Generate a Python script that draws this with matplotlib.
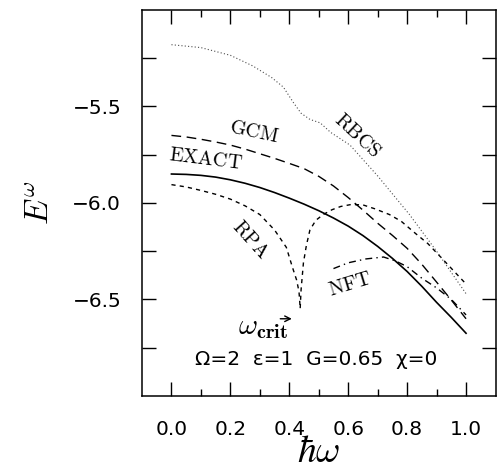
import numpy as np
import matplotlib
matplotlib.use("Agg")
import matplotlib.pyplot as plt

plt.rcParams['mathtext.fontset'] = 'cm'
plt.rcParams['font.family'] = 'DejaVu Sans'

# curves
x_exact = [0.0, 0.05, 0.1, 0.15, 0.2, 0.25, 0.3, 0.35, 0.4, 0.45, 0.5,
           0.55, 0.6, 0.65, 0.7, 0.75, 0.8, 0.85, 0.9, 0.95, 1.0]
y_exact = [-5.850, -5.852, -5.857, -5.866, -5.880, -5.898, -5.920, -5.946, -5.975, -6.006, -6.040,
           -6.078, -6.120, -6.169, -6.225, -6.287, -6.355, -6.432, -6.515, -6.593, -6.675]

x_gcm = [0.0, 0.05, 0.1, 0.15, 0.2, 0.25, 0.3, 0.35, 0.4, 0.45, 0.5,
         0.55, 0.6, 0.65, 0.7, 0.75, 0.8, 0.85, 0.9, 0.95, 1.0]
y_gcm = [-5.650, -5.658, -5.670, -5.684, -5.700, -5.721, -5.745, -5.769, -5.795, -5.822, -5.862,
         -5.912, -5.972, -6.037, -6.105, -6.168, -6.235, -6.318, -6.410, -6.503, -6.600]

x_rpa1 = [0.0, 0.05, 0.1, 0.15, 0.2, 0.25, 0.3, 0.35, 0.39, 0.41, 0.425, 0.433, 0.437]
y_rpa1 = [-5.905, -5.917, -5.935, -5.955, -5.980, -6.015, -6.060, -6.140, -6.230, -6.330, -6.400, -6.460, -6.545]

x_rpa2 = [0.437, 0.440, 0.448, 0.458, 0.47, 0.49, 0.515, 0.545, 0.575, 0.61, 0.65,
          0.69, 0.74, 0.78, 0.83, 0.87, 0.92, 0.96, 1.0]
y_rpa2 = [-6.545, -6.450, -6.310, -6.220, -6.140, -6.090, -6.060, -6.035, -6.018, -6.008, -6.010,
          -6.030, -6.060, -6.095, -6.160, -6.210, -6.290, -6.355, -6.420]

x_nft = [0.55, 0.6, 0.66, 0.72, 0.76, 0.8, 0.85, 0.9, 0.95, 1.0]
y_nft = [-6.34, -6.31, -6.29, -6.28, -6.30, -6.33, -6.39, -6.44, -6.50, -6.58]

x_rbcs = [0.0, 0.1, 0.2, 0.276, 0.34, 0.38, 0.414, 0.44, 0.47, 0.505, 0.54, 0.606,
          0.7, 0.808, 0.9, 0.95, 1.0]
y_rbcs = [-5.18, -5.195, -5.235, -5.29, -5.35, -5.40, -5.48, -5.535, -5.567, -5.585, -5.634, -5.70,
          -5.86, -6.06, -6.25, -6.36, -6.47]

xticks = [0.0, 0.2, 0.4, 0.6, 0.8, 1.0]
xtick_labels = ["0.0", "0.2", "0.4", "0.6", "0.8", "1.0"]
yticks = [-5.25, -5.5, -5.75, -6.0, -6.25, -6.5, -6.75]
ytick_labels = ["", "\u22125.5", "", "\u22126.0", "", "\u22126.5", ""]

fig = plt.figure(figsize=(4.97, 4.74), dpi=100)
ax = fig.add_axes([0.2857, 0.1646, 0.7113, 0.8144])

ax.plot(x_exact, y_exact, color="black", lw=1.2)
ax.plot(x_gcm, y_gcm, color="black", lw=1.0, dashes=(7, 4))
ax.plot(x_rpa1, y_rpa1, color="black", lw=1.0, dashes=(3, 3))
ax.plot(x_rpa2, y_rpa2, color="black", lw=1.0, dashes=(3, 3))
ax.plot(x_nft, y_nft, color="black", lw=1.0, dashes=(5, 3, 1, 3))
ax.plot(x_rbcs, y_rbcs, color="0.3", lw=0.8, linestyle=(0, (1, 2)))

ax.set_xlim(-0.1, 1.1)
ax.set_ylim(-7.0, -5.0)

ax.set_xticks(xticks)
ax.set_xticklabels(xtick_labels)
ax.set_xticks([0.1, 0.3, 0.5, 0.7, 0.9], minor=True)
ax.set_yticks(yticks)
ax.set_yticklabels(ytick_labels)

ax.tick_params(which="both", direction="in", top=True, right=True, width=1.0, labelsize=14.5)
ax.tick_params(which="major", length=10)
ax.tick_params(which="minor", length=5)
ax.tick_params(axis="x", pad=17)
ax.tick_params(axis="y", pad=15)
for s in ax.spines.values():
    s.set_linewidth(1.1)

ax.set_xlabel(r"$\hbar\omega$", fontsize=27, labelpad=-3)
ax.set_ylabel(r"$E^{\omega}$", fontsize=24, labelpad=12)

# curve labels
ax.text(0.279, -5.634, r"$\mathrm{GCM}$", fontsize=14.5, rotation=-12, ha="center", va="center")
ax.text(0.118, -5.773, r"$\mathrm{EXACT}$", fontsize=14.5, rotation=-7, ha="center", va="center")
ax.text(0.269, -6.19, r"$\mathrm{RPA}$", fontsize=14.5, rotation=-48, ha="center", va="center")
ax.text(0.63, -5.65, r"$\mathrm{RBCS}$", fontsize=14.5, rotation=-43, ha="center", va="center")
ax.text(0.606, -6.42, r"$\mathrm{NFT}$", fontsize=14.5, rotation=17, ha="center", va="center")

ax.text(0.311, -6.645, r"$\omega_{\mathbf{crit}}$", fontsize=21, ha="center", va="center")
ax.annotate("", xy=(0.418, -6.60), xytext=(0.36, -6.60),
            arrowprops=dict(arrowstyle="->", color="black", lw=1.0))

ax.text(0.49, -6.81, "\u03a9=2  \u03b5=1  G=0.65  \u03c7=0", fontsize=14.5, ha="center", va="center")

plt.savefig("out.png", dpi=100)
